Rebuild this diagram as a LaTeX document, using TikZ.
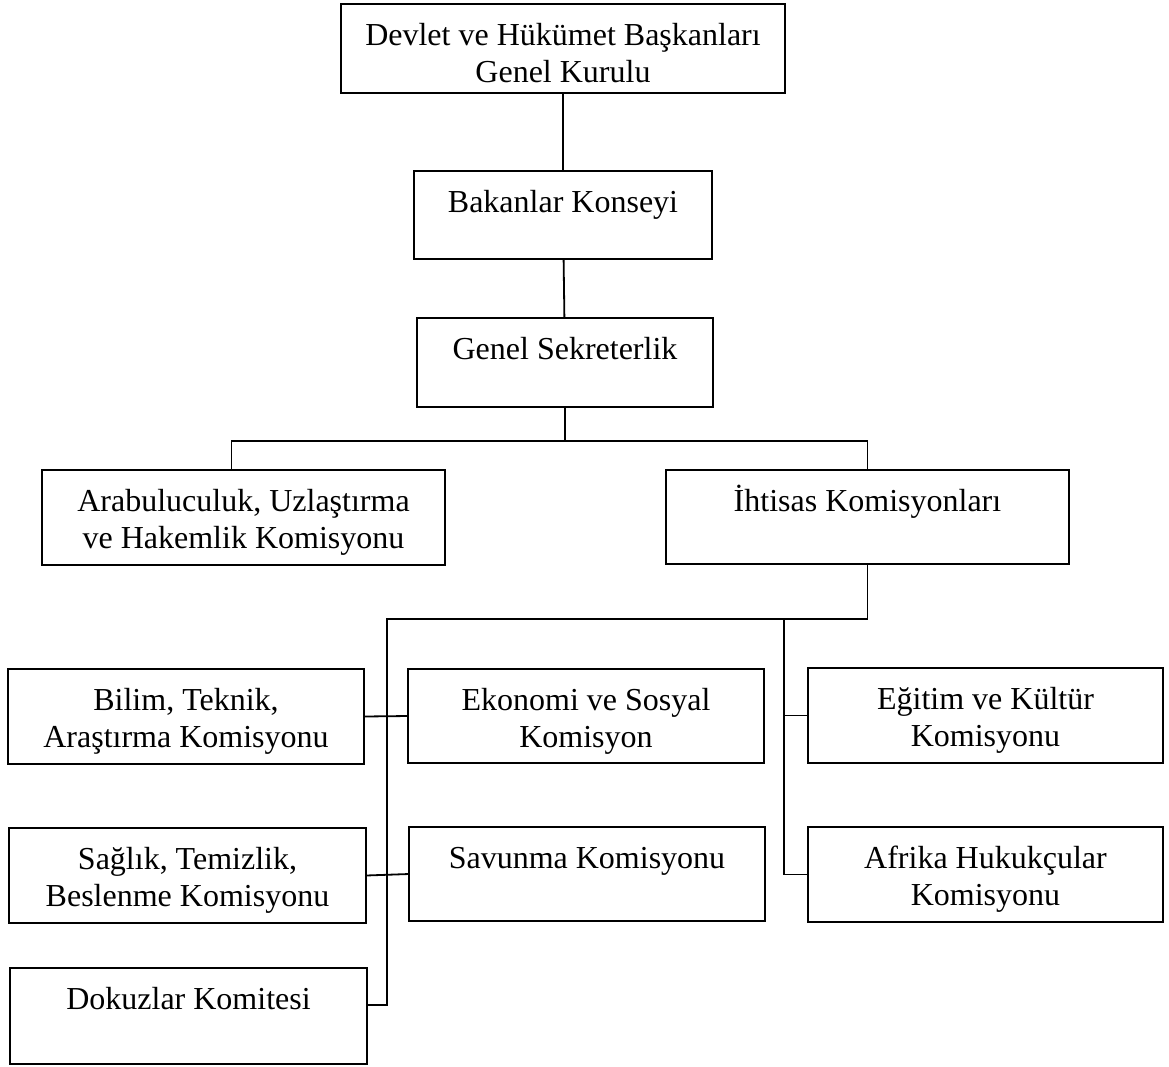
\documentclass[tikz,border=0pt]{standalone}
\usepackage{fontspec}
\setmainfont{Liberation Serif}
\usepackage{tikz}
\usetikzlibrary{positioning}

\begin{document}
\begin{tikzpicture}[
    x=1pt,y=-1pt,
    kutu/.style={draw,line width=1.8pt,anchor=north west,inner sep=0pt,outer sep=0pt,
      align=center,text height=41pt,font=\fontsize{32}{37}\selectfont},
    ikisatir/.style={text height=78pt},
    bag/.style={line width=1.8pt}
  ]
    \useasboundingbox (0,0) rectangle (1169,1066);
    % ust kademe
    \node[kutu,ikisatir,minimum width=444pt,minimum height=89pt,text depth=11pt] (genkur) at (341,4) {Devlet ve Hükümet Başkanları\\Genel Kurulu};
    \node[kutu,minimum width=298pt,minimum height=88pt,text depth=47pt] (bakan) at (414,171) {Bakanlar Konseyi};
    \node[kutu,minimum width=296pt,minimum height=89pt,text depth=48pt] (gensek) at (417,318) {Genel Sekreterlik};
    \node[kutu,ikisatir,minimum width=403pt,minimum height=95pt,text depth=17pt] (arabul) at (42,470) {Arabuluculuk, Uzlaştırma\\ve Hakemlik Komisyonu};
    \node[kutu,minimum width=403pt,minimum height=94pt,text depth=53pt] (ihtisas) at (666,470) {İhtisas Komisyonları};
    % komisyonlar
    \node[kutu,ikisatir,minimum width=356pt,minimum height=95pt,text depth=17pt] (bilim) at (8,669) {Bilim, Teknik,\\Araştırma Komisyonu};
    \node[kutu,ikisatir,minimum width=356pt,minimum height=94pt,text depth=16pt] (ekonomi) at (408,669) {Ekonomi ve Sosyal\\Komisyon};
    \node[kutu,ikisatir,minimum width=355pt,minimum height=95pt,text depth=17pt] (egitim) at (808,668) {Eğitim ve Kültür\\Komisyonu};
    \node[kutu,ikisatir,minimum width=357pt,minimum height=95pt,text depth=17pt] (saglik) at (9,828) {Sağlık, Temizlik,\\Beslenme Komisyonu};
    \node[kutu,minimum width=356pt,minimum height=94pt,text depth=53pt] (savunma) at (409,827) {Savunma Komisyonu};
    \node[kutu,ikisatir,minimum width=355pt,minimum height=95pt,text depth=17pt] (afrika) at (808,827) {Afrika Hukukçular\\Komisyonu};
    \node[kutu,minimum width=357pt,minimum height=96pt,text depth=55pt] (dokuz) at (10,968) {Dokuzlar Komitesi};
    % baglantilar
    \coordinate (solhat) at (387,619);
    \coordinate (saghat) at (784,619);
    \draw[bag] (genkur) -- (bakan);
    \draw[bag] (bakan) -- (gensek);
    \draw[bag] (gensek.south) -- ++(0,34) coordinate (ayrim);
    \draw[bag] ([xshift=-12pt]arabul.north) |- (ayrim) -| (ihtisas.north);
    \draw[bag] (ihtisas.south) |- (solhat) |- ([yshift=11pt]dokuz.east);
    \draw[bag] (bilim.east) -- (ekonomi.west);
    \draw[bag] (saglik.east) -- (savunma.west);
    \draw[bag] (saghat) |- (afrika.west);
    \draw[bag] (saghat |- egitim.west) -- (egitim.west);
  \end{tikzpicture}
\end{document}
